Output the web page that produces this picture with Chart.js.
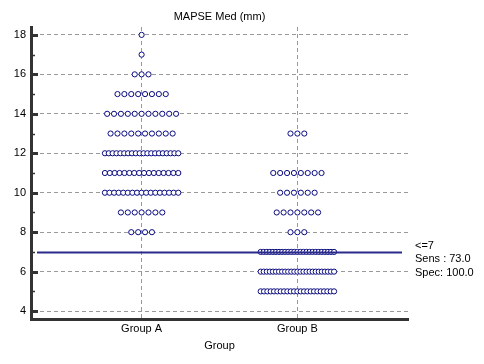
<!DOCTYPE html>
<html>
<head>
<meta charset="utf-8">
<script src="https://cdn.jsdelivr.net/npm/chart.js@4"></script>
<style>
  body { margin: 0; background: #fff; }
</style>
</head>
<body>
<canvas id="myChart" width="484" height="364"></canvas>
<script>
// values on the y axis and how many cases sit at each value
const groups = ['Group A', 'Group B']
const values = [18, 17, 16, 15, 14, 13, 12, 11, 10, 9, 8, 7, 6, 5]
const countsA = [1, 1, 3, 8, 11, 10, 20, 16, 17, 7, 4, 0, 0, 0]
const countsB = [0, 0, 0, 0, 0, 3, 0, 8, 6, 7, 3, 25, 25, 23]
const yTicks = [4, 6, 8, 10, 12, 14, 16, 18]
const cutoff = 7
const cutoffLabels = ['<=7', 'Sens : 73.0', 'Spec: 100.0']

const navy = '#0a0a80'
const unitPx = 155   // px per category unit on x
const dotStep = 6.86 // px between dots
const maxRow = 73    // widest spread of a row, px

function dots(counts, center) {
  let pts = []
  counts.forEach((n, i) => {
    let step = n > 1 ? Math.min(dotStep, maxRow / (n - 1)) : 0
    for (let k = 0; k < n; k++) {
      pts.push({ x: center + (k - (n - 1) / 2) * step / unitPx, y: values[i] })
    }
  })
  return pts
}

const textPlugin = {
  id: 'texts',
  afterDraw(chart) {
    const ctx = chart.ctx
    const a = chart.chartArea
    const y = chart.scales.y
    ctx.save()
    // tick marks inside the axis
    ctx.strokeStyle = '#333'
    for (let v = 4; v <= 18; v++) {
      const py = Math.round(y.getPixelForValue(v)) + 0.5
      ctx.lineWidth = v % 2 === 0 ? 3 : 1.5
      ctx.beginPath()
      ctx.moveTo(a.left, py)
      ctx.lineTo(a.left + (v % 2 === 0 ? 7 : 4), py)
      ctx.stroke()
    }
    // cutoff line
    const cy = Math.round(y.getPixelForValue(cutoff)) + 0.5
    ctx.strokeStyle = '#2a2a8c'
    ctx.lineWidth = 2
    ctx.beginPath()
    ctx.moveTo(a.left + 6, cy)
    ctx.lineTo(a.right - 6, cy)
    ctx.stroke()
    // texts
    ctx.fillStyle = '#000'
    ctx.font = '11px "Liberation Sans", Arial, sans-serif'
    ctx.textAlign = 'center'
    ctx.textBaseline = 'middle'
    ctx.fillText('MAPSE Med (mm)', (a.left + a.right) / 2, 17)
    ctx.textAlign = 'left'
    cutoffLabels.forEach((t, i) => {
      ctx.fillText(t, 415, cy - 7 + i * 13.5)
    })
    ctx.restore()
  }
}

const ctx = document.getElementById('myChart')
new Chart(ctx, {
  type: 'scatter',
  data: {
    datasets: [
      { data: dots(countsA, 1) },
      { data: dots(countsB, 2) }
    ]
  },
  options: {
    responsive: false,
    animation: false,
    layout: { padding: { top: 27, right: 76, left: 0, bottom: 11 } },
    elements: {
      point: {
        radius: 2.6,
        borderWidth: 1,
        borderColor: navy,
        backgroundColor: '#fff',
        hoverRadius: 2.6
      }
    },
    plugins: { legend: { display: false }, tooltip: { enabled: false } },
    scales: {
      x: {
        type: 'linear',
        min: 0.29,
        max: 2.71,
        afterBuildTicks: (s) => { s.ticks = [{ value: 1 }, { value: 2 }] },
        afterFit: (s) => { s.height = 34 },
        ticks: {
          callback: (v) => groups[v - 1],
          color: '#000',
          font: { family: '"Liberation Sans", Arial, sans-serif', size: 11 },
          padding: 3
        },
        grid: { color: '#999', drawTicks: false, tickLength: 0 },
        border: { display: true, color: '#333', width: 3, dash: [4, 3] },
        title: {
          display: true,
          text: 'Group',
          color: '#000',
          font: { family: '"Liberation Sans", Arial, sans-serif', size: 11 },
          padding: { top: 4, bottom: 0 }
        }
      },
      y: {
        min: 3.6,
        max: 18.4,
        afterBuildTicks: (s) => { s.ticks = yTicks.map(v => ({ value: v })) },
        afterFit: (s) => { s.width = 31 },
        ticks: {
          color: '#000',
          font: { family: '"Liberation Sans", Arial, sans-serif', size: 11 },
          padding: 5
        },
        grid: { color: '#999', drawTicks: false },
        border: { display: true, color: '#333', width: 3, dash: [4, 3] }
      }
    }
  },
  plugins: [textPlugin]
})
</script>
</body>
</html>
